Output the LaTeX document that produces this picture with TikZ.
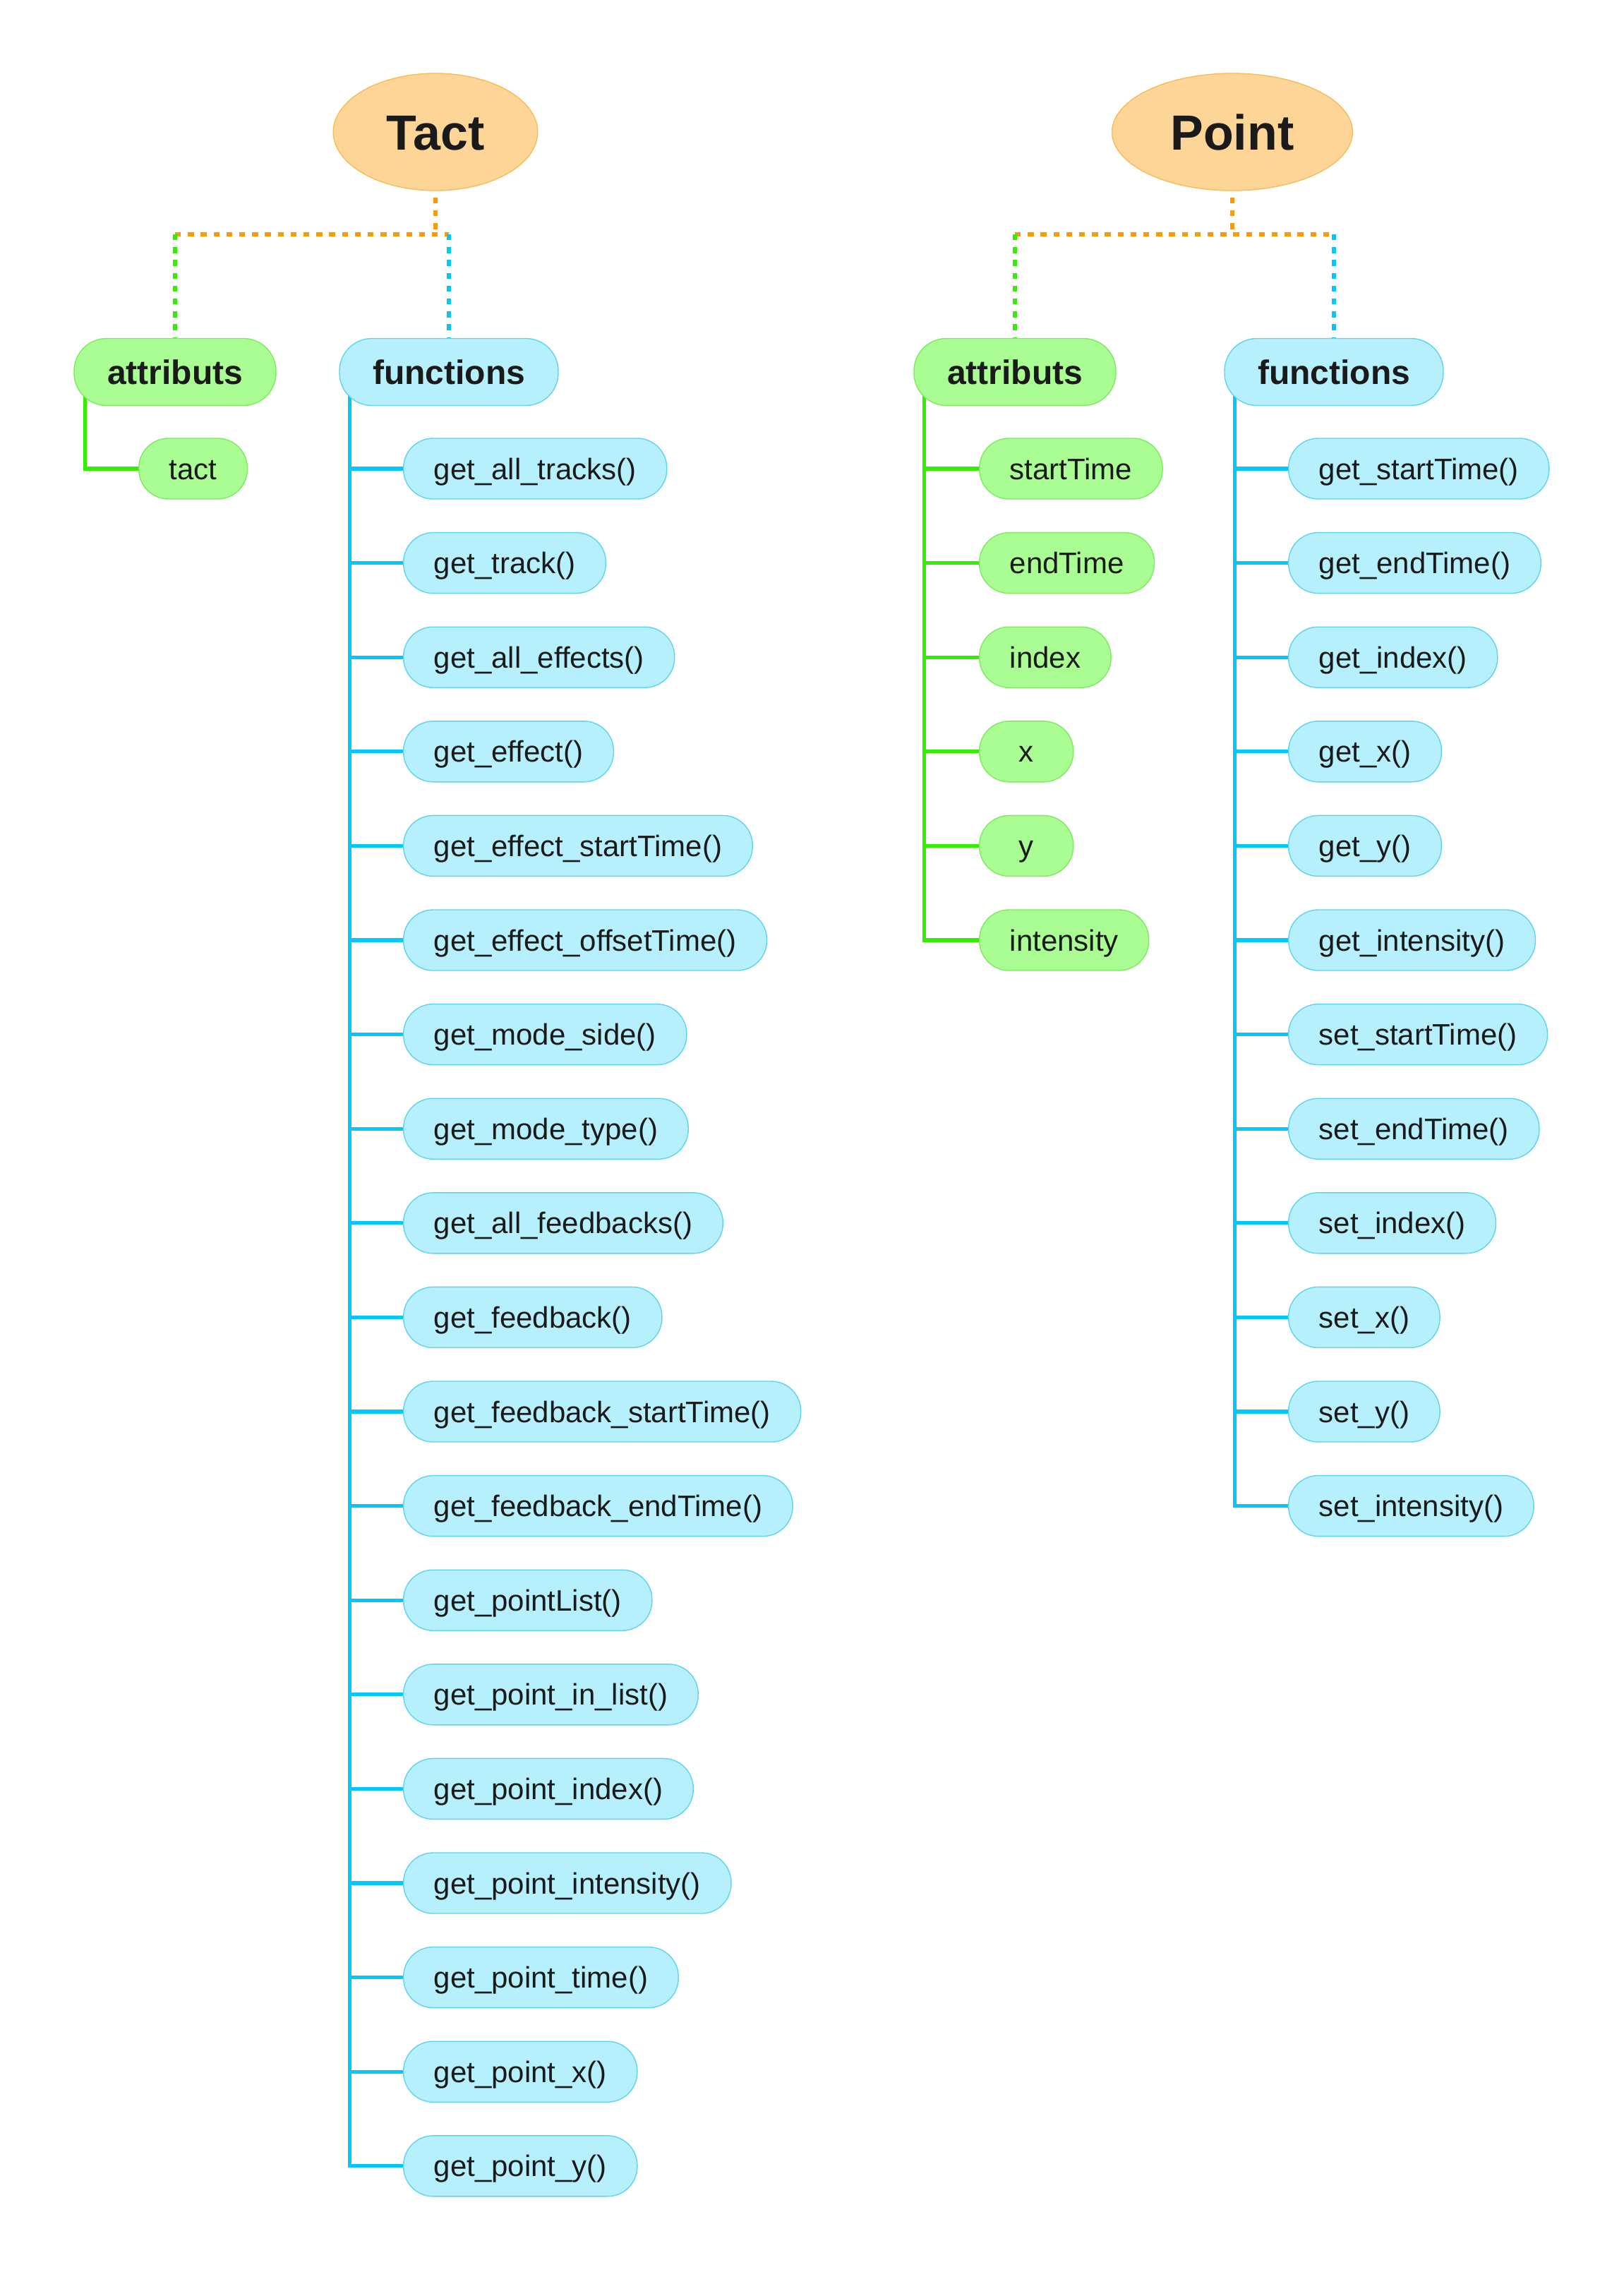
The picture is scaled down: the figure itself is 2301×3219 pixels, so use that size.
\documentclass[tikz,border=0pt]{standalone}
\usepackage{fontspec}
\setmainfont{Liberation Sans}
\usetikzlibrary{positioning, shapes.geometric, backgrounds}

\definecolor{rootfill}{HTML}{FDD596}
\definecolor{rootborder}{HTML}{F6BC5A}
\definecolor{attrfill}{HTML}{A9FD93}
\definecolor{attrborder}{HTML}{7DEB5F}
\definecolor{funcfill}{HTML}{B7F0FD}
\definecolor{funcborder}{HTML}{5FD3F2}
\definecolor{attrline}{HTML}{33EE00}
\definecolor{funcline}{HTML}{00C8FA}
\definecolor{joinline}{HTML}{FF9900}
\definecolor{ink}{HTML}{1A1A1A}

\begin{document}
\begin{tikzpicture}[
    x=0.5pt, y=-0.5pt, text=ink,
    root/.style={ellipse, draw=rootborder, fill=rootfill, line width=0.7pt,
        inner xsep=16.5pt, inner ysep=0pt, minimum height=83pt,
        font=\fontsize{35pt}{42pt}\selectfont\bfseries, text height=25pt, text depth=0pt},
    head/.style={rounded corners=23pt, line width=0.7pt, inner xsep=23.5pt, inner ysep=0pt,
        minimum height=47.5pt,
        font=\fontsize{24pt}{29pt}\selectfont\bfseries, text height=17.3pt, text depth=0pt},
    leaf/.style={rounded corners=21pt, line width=0.7pt, inner xsep=21.5pt, inner ysep=0pt,
        minimum height=43pt, minimum width=66.5pt, anchor=west,
        font=\fontsize{21pt}{25pt}\selectfont, text height=15.1pt, text depth=0pt},
    attr/.style={draw=attrborder, fill=attrfill},
    func/.style={draw=funcborder, fill=funcfill},
    dots/.style={line width=2.7pt, dash pattern=on 4.2pt off 4.9pt},
    branch/.style={line width=2.6pt}
]
    \useasboundingbox (0,0) rectangle (2301,3219);

    \node[root] (tact)  at (617,187)  {Tact};
    \node[root] (point) at (1746,187) {Point};

    \node[head, attr] (tattr) at (248,527)  {attributs};
    \node[head, func] (tfunc) at (636,527)  {functions};
    \node[head, attr] (pattr) at (1438,527) {attributs};
    \node[head, func] (pfunc) at (1890,527) {functions};

    \coordinate (tbar) at (617,332);
    \coordinate (pbar) at (1746,332);

    \node[leaf, attr] (ta1) at (196,664) {tact};
    \foreach \name [count=\i] in {get\_all\_tracks(), get\_track(), get\_all\_effects(),
        get\_effect(), get\_effect\_startTime(), get\_effect\_offsetTime(), get\_mode\_side(),
        get\_mode\_type(), get\_all\_feedbacks(), get\_feedback(), get\_feedback\_startTime(),
        get\_feedback\_endTime(), get\_pointList(), get\_point\_in\_list(), get\_point\_index(),
        get\_point\_intensity(), get\_point\_time(), get\_point\_x(), get\_point\_y()}
        \node[leaf, func] (tf\i) at (571,{664+133.6*(\i-1)}) {\name};

    \foreach \name [count=\i] in {startTime, endTime, index, x, y, intensity}
        \node[leaf, attr] (pa\i) at (1387,{664+133.6*(\i-1)}) {\name};
    \foreach \name [count=\i] in {get\_startTime(), get\_endTime(), get\_index(), get\_x(),
        get\_y(), get\_intensity(), set\_startTime(), set\_endTime(), set\_index(), set\_x(),
        set\_y(), set\_intensity()}
        \node[leaf, func] (pf\i) at (1825,{664+133.6*(\i-1)}) {\name};

    \begin{scope}[on background layer]
        \draw[dots, joinline] ([yshift=-4.5pt]tact.south) -- (tbar);
        \draw[dots, joinline] (tattr.north |- tbar) -- (tfunc.north |- tbar);
        \draw[dots, attrline] (tattr.north |- tbar) -- (tattr.north);
        \draw[dots, funcline] (tfunc.north |- tbar) -- (tfunc.north);
        \draw[dots, joinline] ([yshift=-4.5pt]point.south) -- (pbar);
        \draw[dots, joinline] (pattr.north |- pbar) -- (pfunc.north |- pbar);
        \draw[dots, attrline] (pattr.north |- pbar) -- (pattr.north);
        \draw[dots, funcline] (pfunc.north |- pbar) -- (pfunc.north);

        \draw[branch, attrline] ([xshift=8pt]tattr.west) |- (ta1.west);
        \draw[branch, funcline] ([xshift=7.5pt]tfunc.west) |- (tf19.west);
        \foreach \i in {1,...,18}
            \draw[branch, funcline] (tf\i.west) -- ([xshift=7.5pt]tfunc.west |- tf\i.west);
        \draw[branch, attrline] ([xshift=7.5pt]pattr.west) |- (pa6.west);
        \foreach \i in {1,...,5}
            \draw[branch, attrline] (pa\i.west) -- ([xshift=7.5pt]pattr.west |- pa\i.west);
        \draw[branch, funcline] ([xshift=7.5pt]pfunc.west) |- (pf12.west);
        \foreach \i in {1,...,11}
            \draw[branch, funcline] (pf\i.west) -- ([xshift=7.5pt]pfunc.west |- pf\i.west);
    \end{scope}
\end{tikzpicture}
\end{document}
